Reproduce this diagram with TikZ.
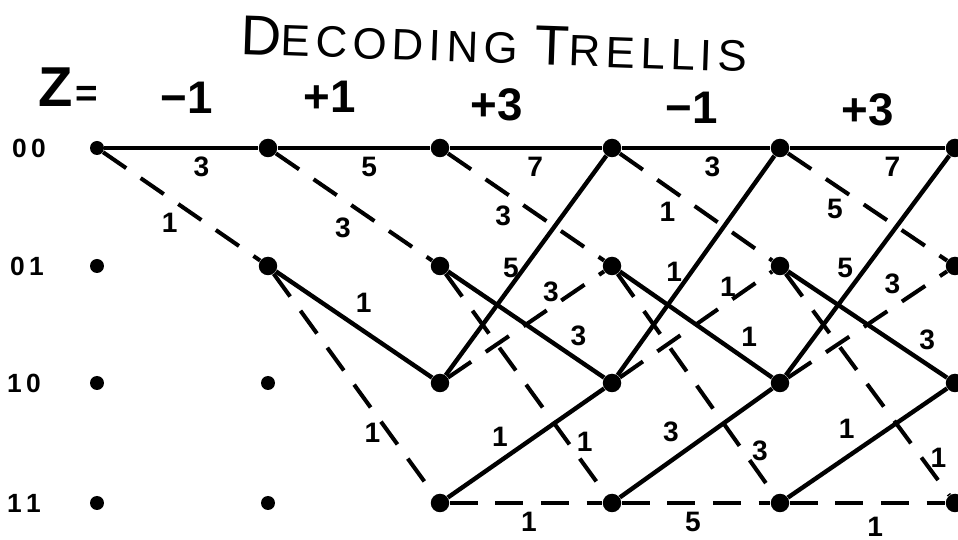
\documentclass[tikz,border=0pt]{standalone}
\usepackage{fontspec}
\setmainfont{Liberation Sans}
\newfontfamily\handfont[LetterSpace=12]{Liberation Sans}
\usetikzlibrary{positioning}

\begin{document}
\begin{tikzpicture}[x=0.02cm,y=-0.02cm,
    dot/.style={circle,fill,inner sep=0pt,minimum size=0.37cm},
    sdot/.style={circle,fill,inner sep=0pt,minimum size=0.28cm},
    br/.style={line width=2.5pt},
    db/.style={line width=2.3pt,dash pattern=on 16pt off 10pt},
    lbl/.style={font=\fontsize{16}{16}\selectfont\bfseries,inner sep=2pt},
    st/.style={font=\fontsize{15}{15}\selectfont\bfseries},
    zl/.style={font=\fontsize{26}{26}\selectfont\bfseries}]
    \useasboundingbox (0,0) rectangle (958,540);
    % heading
    \node[font=\handfont\fontsize{25}{25}\selectfont,rotate=-2] (title) at (494,44) {{\fontsize{32}{32}\selectfont D}ECODING {\fontsize{32}{32}\selectfont T}RELLIS};
    \node[anchor=west] (zeq) at (32,87) {{\fontsize{32}{32}\selectfont\bfseries Z}\,{\fontsize{22}{22}\selectfont\bfseries =}};
    \node[zl] (z1) at (187,98) {−1};
    \node[zl] (z2) at (330,97) {+1};
    \node[zl] (z3) at (497,105) {+3};
    \node[zl] (z4) at (692,108) {−1};
    \node[zl] (z5) at (868,110) {+3};
    % states
    \node[st] (s00) at (29,148) {0\,0};
    \node[st] (s01) at (27,266) {0\,1};
    \node[st] (s10) at (24,383) {1\,0};
    \node[st] (s11) at (24,503) {1\,1};
    % trellis points
    \node[sdot] (a00) at (97,148) {};
    \node[sdot] (a01) at (97,266) {};
    \node[sdot] (a10) at (97,383) {};
    \node[sdot] (a11) at (97,503) {};
    \node[dot] (b00) at (268,148) {};
    \node[dot] (b01) at (268,266) {};
    \node[sdot] (b10) at (268,383) {};
    \node[sdot] (b11) at (268,503) {};
    \foreach \c/\x in {c/440,d/612,e/780,f/955}{
      \node[dot] (\c00) at (\x,148) {};
      \node[dot] (\c01) at (\x,266) {};
      \node[dot] (\c10) at (\x,383) {};
      \node[dot] (\c11) at (\x,503) {};
    }
    % a -> b
    \draw[br] (a00) -- node[lbl,pos=.63,below=2pt]{3} (b00);
    \draw[db] (a00) -- node[lbl,pos=.51,below left]{1} (b01);
    % b -> c
    \draw[br] (b00) -- node[lbl,pos=.6,below=2pt]{5} (c00);
    \draw[db] (b00) -- node[lbl,pos=.53,below left=2pt]{3} (c01);
    \draw[br] (b01) -- node[lbl,pos=.46,above right=2pt]{1} (c10);
    \draw[db] (b01) -- node[lbl,pos=.72,left=2pt]{1} (c11);
    % c -> d
    \draw[br] (c00) -- node[lbl,pos=.56,below=2pt]{7} (d00);
    \draw[db] (c00) -- node[lbl,pos=.44,below left]{3} (d01);
    \draw[br] (c01) -- node[lbl,pos=.75,above right]{3} (d10);
    \draw[db] (c01) -- node[lbl,pos=.76,right=2pt]{1} (d11);
    \draw[br] (c10) -- node[lbl,pos=.49,left]{5} (d00);
    \draw[db] (c10) -- node[lbl,pos=.66,above]{3} (d01);
    \draw[br] (c11) -- node[lbl,pos=.42,above left]{1} (d10);
    \draw[db] (c11) -- node[lbl,pos=.52,below=2pt]{1} (d11);
    % d -> e
    \draw[br] (d00) -- node[lbl,pos=.61,below=2pt]{3} (e00);
    \draw[db] (d00) -- node[lbl,pos=.40,below left]{1} (e01);
    \draw[br] (d01) -- node[lbl,pos=.76,above right]{1} (e10);
    \draw[db] (d01) -- node[lbl,pos=.80,right=2pt]{3} (e11);
    \draw[br] (d10) -- node[lbl,pos=.47,left=2pt]{1} (e00);
    \draw[db] (d10) -- node[lbl,pos=.71,above]{1} (e01);
    \draw[br] (d11) -- node[lbl,pos=.44,above left=2pt]{3} (e10);
    \draw[db] (d11) -- node[lbl,pos=.48,below=2pt]{5} (e11);
    % e -> f
    \draw[br] (e00) -- node[lbl,pos=.66,below=2pt]{7} (f00);
    \draw[db] (e00) -- node[lbl,pos=.38,below left]{5} (f01);
    \draw[br] (e01) -- node[lbl,pos=.79,above right]{3} (f10);
    \draw[db] (e01) -- node[lbl,pos=.83,right=2pt]{1} (f11);
    \draw[br] (e10) -- node[lbl,pos=.49,left=4pt]{5} (f00);
    \draw[db] (e10) -- node[lbl,pos=.74,above left]{3} (f01);
    \draw[br] (e11) -- node[lbl,pos=.47,above left=2pt]{1} (f10);
    \draw[db] (e11) -- node[lbl,pos=.55,below=5pt]{1} (f11);
\end{tikzpicture}
\end{document}
